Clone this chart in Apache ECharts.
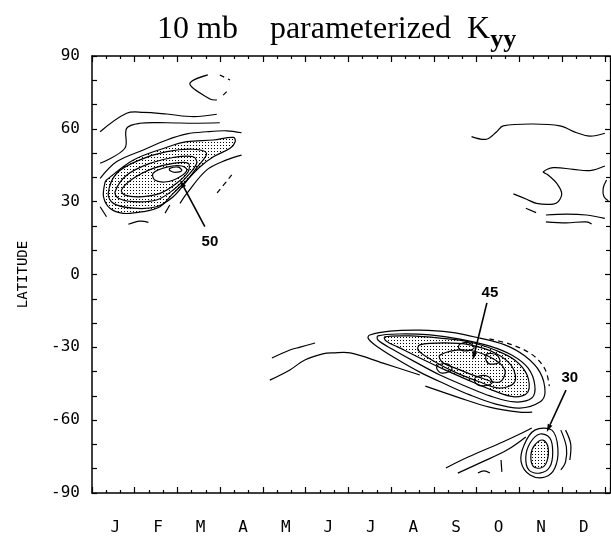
<!DOCTYPE html>
<html><head><meta charset="utf-8">
<script src="https://cdn.jsdelivr.net/npm/echarts@6/dist/echarts.min.js"></script>
<style>html,body{margin:0;padding:0;background:#fff}#c{width:611px;height:537px}</style>
</head><body><div id="c"></div>
<script>
// ---- axis data ----
const months = ['J','F','M','A','M','J','J','A','S','O','N','D'];
const latMin = -90, latMax = 90, latStep = 30;
const monthMax = 12.12;

// ---- contour lines, [month, latitude] ----
// Northern-hemisphere winter maximum (Jan-Apr)
const nhA = [[0.19,58.8],[0.81,66.4],[1.2,66.8],[1.75,66.1],[2.37,65.0],[2.92,66.0]];
const nhB = [[0.19,45.8],[0.77,52.0],[0.81,60.2],[1.12,62.3],[1.75,62.5],[2.37,62.3],[2.99,62.5]];
const nhC = [[0.19,39.6],[0.58,46.5],[1.2,51.3],[1.75,55.4],[2.22,57.9],[2.68,58.8],[3.15,59.2],[3.5,58.4]];
const nhD = [[3.5,49.2],[3.15,47.2],[2.68,43.0],[2.22,33.4],[2.06,29.3]];
const nhE = [[3.27,41.0],[2.92,33.4]];
const nhF = [[0.19,27.9],[0.34,23.8]];
const nhG = [[0.85,20.7],[1.12,22.0],[1.32,21.5]];
const nhH = [[1.71,25.3],[1.82,28.6]];
const nhShade = [[0.34,38.9],[0.97,47.2],[1.75,52.4],[2.22,54.7],[2.84,55.4],[3.31,56.5],[3.35,54.7],[3.23,52.0],[2.84,48.5],[2.53,44.4],[2.22,38.9],[1.9,33.4],[1.59,27.9],[1.2,25.9],[0.73,25.2],[0.42,27.3],[0.27,32.0],[0.3,37.6]];
const nh5 = [[0.38,33.4],[0.58,41.7],[1.12,47.2],[1.75,50.6],[2.37,51.6],[2.68,49.9],[2.47,44.4],[2.2,38.2],[1.9,32.0],[1.51,27.9],[0.97,27.3],[0.5,29.3]];
const nh6 = [[0.54,34.1],[0.81,40.9],[1.36,45.8],[1.9,48.2],[2.37,48.5],[2.45,45.8],[2.22,40.3],[1.9,34.8],[1.51,30.7],[0.97,30.0],[0.62,31.4]];
const nh7 = [[0.69,34.8],[0.97,39.6],[1.43,43.7],[1.9,45.8],[2.25,45.8],[2.25,42.3],[1.98,37.6],[1.59,33.4],[1.12,32.0],[0.77,32.7]];
const nh8 = [[1.43,41.7],[1.75,44.2],[2.1,44.7],[2.22,43.0],[2.06,40.3],[1.75,38.2],[1.47,38.9]];
const nh9 = [[1.82,43.7],[2.02,44.2],[2.1,42.8],[1.94,42.1],[1.82,42.8]];
const npA = [[2.71,82.2],[2.29,78.5],[2.76,72.3],[2.92,71.9]];
const npB = [[2.99,82.2],[3.23,80.1]];
const npC = [[3.15,75.3],[3.07,73.9]];
// Northern autumn (Sep-Dec)
const rG = [[8.88,56.8],[9.23,55.7],[9.47,58.8],[9.62,61.2],[10.32,62.0],[10.95,61.2],[11.34,58.4],[11.65,57.0],[12.0,58.2]];
const rH = [[9.86,33.2],[10.17,31.0],[10.4,29.3],[10.79,29.0],[10.91,30.0],[10.99,33.4],[10.87,37.6],[10.67,41.0],[10.56,42.3],[10.79,44.0],[11.26,43.3],[11.65,42.8],[12.0,44.7]];
const rI = [[10.15,27.3],[10.39,25.5]];
const rJ = [[10.62,24.5],[11.1,24.9],[11.57,24.5],[12.0,23.1]];
const rK = [[10.62,21.7],[11.1,21.3],[11.57,21.7],[11.69,20.8]];
const rL = [[12.04,38.9],[11.96,35.5],[11.98,32.0],[12.08,30.4]];
// Southern mid-latitude band (May-Nov)
const sA = [[4.21,-34.4],[4.63,-31.1],[4.87,-29.9],[5.22,-28.2]];
const sB = [[4.16,-43.5],[4.63,-39.3],[4.98,-35.2],[5.4,-32.7],[5.64,-32.3],[6.04,-32.3],[6.81,-36.5],[7.67,-41.4]];
const b1 = [[6.5,-24.9],[6.97,-23.3],[7.67,-22.9],[8.37,-23.7],[9.08,-26.2],[9.66,-29.0],[10.13,-33.6],[10.48,-40.2],[10.6,-48.4],[10.48,-52.5],[10.01,-55.0],[9.43,-53.3],[8.84,-49.6],[8.26,-45.1],[7.67,-40.2],[7.09,-34.4],[6.62,-29.0],[6.46,-26.2]];
const b2 = [[6.69,-25.3],[7.2,-24.5],[7.91,-24.9],[8.61,-26.6],[9.31,-29.5],[9.82,-33.2],[10.2,-38.5],[10.36,-45.5],[10.29,-50.9],[9.89,-52.5],[9.31,-50.0],[8.73,-45.9],[8.14,-41.4],[7.56,-36.0],[7.02,-30.7],[6.69,-27.0]];
const bShade = [[6.85,-25.7],[7.44,-25.3],[8.14,-26.2],[8.84,-27.8],[9.43,-31.1],[9.89,-35.2],[10.18,-41.4],[10.2,-48.4],[9.89,-50.4],[9.36,-47.6],[8.8,-43.5],[8.26,-39.3],[7.67,-34.4],[7.16,-29.9],[6.88,-27.4]];
const b4 = [[7.67,-29.0],[8.26,-28.2],[8.84,-29.0],[9.43,-32.3],[9.82,-37.7],[9.89,-44.3],[9.54,-46.8],[9.08,-44.3],[8.49,-40.2],[7.95,-35.2],[7.63,-31.1]];
const b5 = [[8.14,-33.2],[8.73,-31.1],[9.31,-34.0],[9.66,-39.3],[9.54,-44.3],[9.12,-42.7],[8.61,-39.3],[8.19,-36.0]];
const bl1 = [[8.61,-28.6],[8.84,-28.2],[8.94,-30.3],[8.73,-31.5],[8.58,-30.3]];
const bl2 = [[8.09,-37.3],[8.33,-36.9],[8.42,-39.3],[8.19,-40.6],[8.07,-38.9]];
const bl3 = [[8.98,-42.3],[9.26,-41.9],[9.36,-44.7],[9.12,-45.9],[8.96,-44.3]];
const bl4 = [[9.24,-32.7],[9.47,-33.2],[9.54,-36.0],[9.31,-36.9],[9.22,-35.2]];
const bLow = [[7.8,-46.0],[8.6,-50.8],[9.3,-54.6],[10.0,-56.7],[10.3,-56.7]];
const bDash = [[9.3,-26.5],[9.8,-28.8],[10.3,-33.0],[10.6,-39.0],[10.7,-46.0]];
// Southern polar maximum (Nov)
const pShade = [[10.36,-70.2],[10.55,-68.2],[10.67,-71.1],[10.64,-77.2],[10.5,-79.7],[10.32,-78.9],[10.27,-74.3]];
const p2 = [[10.25,-69.4],[10.48,-65.7],[10.71,-67.3],[10.78,-73.1],[10.71,-79.3],[10.48,-81.8],[10.22,-80.5],[10.15,-75.2]];
const p3 = [[10.11,-70.2],[10.36,-64.1],[10.76,-64.1],[10.9,-71.5],[10.83,-79.7],[10.6,-83.4],[10.25,-82.6],[10.04,-77.2]];
const pR1 = [[10.97,-64.1],[11.1,-71.1],[11.08,-77.2],[10.97,-80.5]];
const pR2 = [[11.08,-64.1],[11.2,-69.8],[11.18,-76.4]];
const pE = [[8.28,-79.7],[8.8,-75.2],[9.61,-69.0],[10.06,-65.3],[10.29,-63.2]];
const pF = [[8.56,-81.8],[9.08,-77.6],[9.71,-72.3],[10.15,-66.9]];
const pG = [[9.03,-81.8],[9.17,-80.9],[9.31,-81.8]];
const pH = [[9.57,-76.4],[9.59,-81.3]];

// ---- annotations ----
const annoText = ['50','45','30'];
const annoTextPos = [[2.76,13.5],[9.31,-7.6],[11.18,-42.6]];
const annoTail = [[2.64,19.7],[9.24,-11.7],[11.09,-47.6]];
const annoHead = [[2.06,38.9],[8.91,-35.2],[10.64,-64.9]];

// ---- drawing ----
function dots(){
  const c = document.createElement('canvas'); c.width = 3; c.height = 3;
  const g = c.getContext('2d'); g.fillStyle = '#000'; g.fillRect(1,1,1,1);
  return c;
}
const stipple = {image: dots(), repeat: 'repeat'};

function shape(pts, o){
  o = o || {};
  return {
    type:'custom', coordinateSystem:'cartesian2d', xAxisIndex:0, yAxisIndex:0,
    silent:true, clip:true, z: o.z || 5, data: pts, encode:{x:0, y:1},
    renderItem(params, api){
      if (params.dataIndex !== 0) return null;
      const P = pts.map(p => api.coord(p));
      return {
        type: o.closed ? 'polygon' : 'polyline',
        shape: {points: P, smooth: 0.35},
        style: {fill: o.fill || 'none', stroke: o.noStroke ? null : '#000',
                lineWidth: 1.2, lineDash: o.dash || null}
      };
    }
  };
}
const openLines = [nhA,nhB,nhC,nhD,nhF,nhG,nhH,npA,rG,rH,rI,rJ,rK,rL,sA,sB,bLow,pR1,pR2,pE,pF,pG,pH];
const dashLines = [nhE,npB,npC,bDash];
const loops = [nhShade,nh5,nh6,nh7,nh8,nh9,b1,b2,bShade,b4,b5,bl1,bl2,bl3,bl4,pShade,p2,p3];

const series = [];
[nhShade,bShade,pShade].forEach(s => series.push(shape(s,{closed:true, fill:stipple, noStroke:true, z:1})));
series.push(shape(nh8,{closed:true, fill:'#fff', noStroke:true, z:2}));
openLines.forEach(s => series.push(shape(s)));
dashLines.forEach(s => series.push(shape(s,{dash:[5,4]})));
loops.forEach(s => series.push(shape(s,{closed:true})));

series.push({
  type:'custom', coordinateSystem:'cartesian2d', xAxisIndex:0, yAxisIndex:0, silent:true, z:6,
  data: annoTail.map((t,i) => [t[0], t[1], annoHead[i][0], annoHead[i][1]]),
  renderItem(params, api){
    const a = api.coord([api.value(0), api.value(1)]);
    const b = api.coord([api.value(2), api.value(3)]);
    const dx = b[0]-a[0], dy = b[1]-a[1], L = Math.hypot(dx,dy), ux = dx/L, uy = dy/L;
    const hl = 8, hw = 2.5, base = [b[0]-ux*hl, b[1]-uy*hl];
    return {type:'group', children:[
      {type:'line', shape:{x1:a[0], y1:a[1], x2:base[0], y2:base[1]}, style:{stroke:'#000', lineWidth:1.6}},
      {type:'polygon', shape:{points:[b, [base[0]-uy*hw, base[1]+ux*hw], [base[0]+uy*hw, base[1]-ux*hw]]}, style:{fill:'#000'}}
    ]};
  }
});
series.push({
  type:'custom', coordinateSystem:'cartesian2d', xAxisIndex:0, yAxisIndex:0, silent:true, z:6,
  data: annoTextPos,
  renderItem(params, api){
    const p = api.coord([api.value(0), api.value(1)]);
    return {type:'text', x:p[0], y:p[1], style:{text: annoText[params.dataIndex], fill:'#000',
      font:'bold 15px "Liberation Sans", Arial, sans-serif', align:'center', verticalAlign:'middle'}};
  }
});

const mono = '"DejaVu Sans Mono", monospace';
const tickStyle = {color:'#000', width:1.2};
const gridRect = {left:92, right:1, top:56, bottom:44};
const option = {
  animation:false,
  backgroundColor:'#fff',
  title:{
    text:'{a|10 mb    parameterized  K}{s|yy}', left:152, top:2,
    textStyle:{fontWeight:'normal', rich:{
      a:{fontFamily:'"Liberation Serif", serif', fontSize:32, fontWeight:'normal', color:'#000'},
      s:{fontFamily:'"Liberation Serif", serif', fontSize:26, fontWeight:'bold', color:'#000', padding:[20,0,0,0]}
    }}
  },
  grid:[Object.assign({containLabel:false}, gridRect), Object.assign({containLabel:false}, gridRect)],
  xAxis:[
    {gridIndex:0, type:'value', position:'bottom', min:0, max:monthMax, interval:1,
     axisLine:{show:true, onZero:false, lineStyle:{color:'#000', width:1.5}},
     axisTick:{show:true, inside:true, length:6, lineStyle:tickStyle},
     minorTick:{show:true, splitNumber:3, length:3, lineStyle:tickStyle},
     axisLabel:{show:false}, splitLine:{show:false}},
    {gridIndex:0, type:'value', position:'top', min:0, max:monthMax, interval:1,
     axisLine:{show:true, onZero:false, lineStyle:{color:'#000', width:1.5}},
     axisTick:{show:true, inside:true, length:6, lineStyle:tickStyle},
     minorTick:{show:true, splitNumber:3, length:3, lineStyle:tickStyle},
     axisLabel:{show:false}, splitLine:{show:false}},
    {gridIndex:1, type:'value', position:'bottom', min:0, max:monthMax, interval:0.05,
     axisLine:{show:false}, axisTick:{show:false}, splitLine:{show:false},
     axisLabel:{show:true, color:'#000', fontFamily:mono, fontSize:16, margin:27, hideOverlap:false,
       formatter: v => { const r = Math.round(v*100); return (r % 100 === 55) ? (months[Math.floor(r/100)] || '') : ''; }}}
  ],
  yAxis:[
    {gridIndex:0, type:'value', position:'left', min:latMin, max:latMax, interval:latStep,
     axisLine:{show:true, onZero:false, lineStyle:{color:'#000', width:1.5}},
     axisTick:{show:true, inside:true, length:5, lineStyle:tickStyle},
     minorTick:{show:true, splitNumber:3, length:5, lineStyle:tickStyle},
     axisLabel:{color:'#000', fontFamily:mono, fontSize:16, margin:12},
     splitLine:{show:false},
     name:'LATITUDE', nameLocation:'middle', nameRotate:90, nameGap:62,
     nameTextStyle:{color:'#000', fontFamily:mono, fontSize:14}},
    {gridIndex:0, type:'value', position:'right', min:latMin, max:latMax, interval:latStep,
     axisLine:{show:true, onZero:false, lineStyle:{color:'#000', width:1.2}},
     axisTick:{show:true, inside:true, length:5, lineStyle:tickStyle},
     minorTick:{show:true, splitNumber:3, length:4, lineStyle:tickStyle},
     axisLabel:{show:false}, splitLine:{show:false}},
    {gridIndex:1, type:'value', show:false, min:latMin, max:latMax}
  ],
  series: series
};
const chart = echarts.init(document.getElementById('c'), null, {renderer:'canvas'});
chart.setOption(option);
</script>
</body></html>
